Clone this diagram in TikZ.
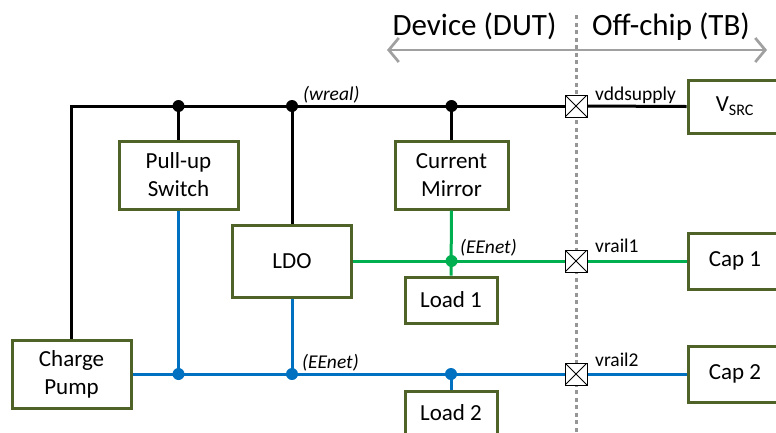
\documentclass[tikz,border=0pt]{standalone}
\usepackage{fontspec}
\setmainfont{Carlito}
\usetikzlibrary{arrows.meta}
\definecolor{boxc}{RGB}{79,98,40}
\definecolor{wgreen}{RGB}{0,176,80}
\definecolor{wblue}{RGB}{0,112,192}
\definecolor{arrgray}{RGB}{160,160,160}
\definecolor{dotgray}{RGB}{150,150,150}
\begin{document}
\begin{tikzpicture}[x=1pt,y=-1pt,
 blk/.style={draw=boxc, line width=3pt, fill=white, inner sep=0pt, align=center, font=\fontsize{23}{28}\selectfont},
 lbl/.style={inner sep=0pt, anchor=base west, font=\fontsize{19.5}{22}\selectfont},
 ilbl/.style={inner sep=0pt, anchor=base west, font=\fontsize{19.5}{22}\selectfont\itshape},
 ttl/.style={inner sep=0pt, anchor=base, font=\fontsize{31}{36}\selectfont},
 bw/.style={line width=3pt, black},
 gw/.style={line width=3pt, wgreen},
 bu/.style={line width=3pt, wblue},
 pad/.style={draw=black, line width=1pt, fill=white, minimum size=22pt, inner sep=0pt,
   path picture={\draw[line width=0.8pt] (path picture bounding box.north west) -- (path picture bounding box.south east)
     (path picture bounding box.north east) -- (path picture bounding box.south west);}}
]
\useasboundingbox (0,0) rectangle (776,432);
\clip (0,0) rectangle (776,432);

% title and boundary arrow
\node[ttl] (dut) at (474.5,35) {Device (DUT)};
\node[ttl] (tb) at (671,35) {Off-chip (TB)};
\coordinate (al) at (387,50);
\coordinate (ar) at (767,50);
\draw[arrgray, line width=2.7pt, {Straight Barb[length=10pt,width=24pt]}-{Straight Barb[length=10pt,width=24pt]}] (al) -- (ar);
\coordinate (dtop) at (576.5,15);
\coordinate (dbot) at (576.5,440);
\draw[dotgray, line width=2.5pt, dash pattern=on 4pt off 3.5pt] (dtop) -- (dbot);

% blocks
\node[blk, minimum width=119pt, minimum height=68pt] (cp) at (71.5,374) {Charge\\Pump};
\node[blk, minimum width=119pt, minimum height=68pt] (pu) at (178.5,175) {Pull-up\\Switch};
\node[blk, minimum width=119pt, minimum height=72pt] (ldo) at (292,261) {LDO};
\node[blk, minimum width=113pt, minimum height=68pt] (cm) at (451.5,175) {Current\\Mirror};
\node[blk, minimum width=92pt, minimum height=46pt] (l1) at (451,300) {Load 1};
\node[blk, minimum width=92pt, minimum height=44pt] (l2) at (451,413) {Load 2};
\node[blk, minimum width=94pt, minimum height=53pt] (vsrc) at (735,106.5) {V\textsubscript{SRC}};
\node[blk, minimum width=94pt, minimum height=56pt] (c1) at (735,261) {Cap 1};
\node[blk, minimum width=94pt, minimum height=56pt] (c2) at (735,374) {Cap 2};

% pads
\node[pad] (p0) at (576,106) {};
\node[pad] (p1) at (576,261) {};
\node[pad] (p2) at (576,374) {};

% junctions
\coordinate (tl) at (71.5,106);
\coordinate (j1) at (pu.north |- tl);
\coordinate (j2) at (ldo.north |- tl);
\coordinate (j3) at (cm.north |- tl);
\coordinate (g1) at (cm.south |- p1);
\coordinate (b1) at (pu.south |- p2);
\coordinate (b2) at (ldo.south |- p2);
\coordinate (b3) at (l2.north |- p2);

% black supply net
\draw[bw] (cp.north) -- (tl) -- (p0.west);
\draw[bw] (p0.east) -- (vsrc.west);
\draw[bw] (j1) -- (pu.north);
\draw[bw] (j2) -- (ldo.north);
\draw[bw] (j3) -- (cm.north);

% green net
\draw[gw] (ldo.east) -- (p1.west);
\draw[gw] (p1.east) -- (c1.west);
\draw[gw] (cm.south) -- (l1.north);

% blue net
\draw[bu] (cp.east) -- (p2.west);
\draw[bu] (p2.east) -- (c2.west);
\draw[bu] (pu.south) -- (b1);
\draw[bu] (ldo.south) -- (b2);
\draw[bu] (b3) -- (l2.north);

% redraw pads on top of wires
\node[pad] at (p0) {};
\node[pad] at (p1) {};
\node[pad] at (p2) {};

% dots
\fill[black] (j1) circle[radius=6pt];
\fill[black] (j2) circle[radius=6pt];
\fill[black] (j3) circle[radius=6pt];
\fill[wgreen] (g1) circle[radius=6pt];
\fill[wblue] (b1) circle[radius=6pt];
\fill[wblue] (b2) circle[radius=6pt];
\fill[wblue] (b3) circle[radius=6pt];

% labels
\node[ilbl] (wreal) at (303,100.5) {(wreal)};
\node[ilbl] (ee1) at (460,253) {(EEnet)};
\node[ilbl] (ee2) at (302,368) {(EEnet)};
\node[lbl] (vdd) at (595,100) {vddsupply};
\node[lbl] (vr1) at (595,252.5) {vrail1};
\node[lbl] (vr2) at (595,366) {vrail2};
\end{tikzpicture}
\end{document}
